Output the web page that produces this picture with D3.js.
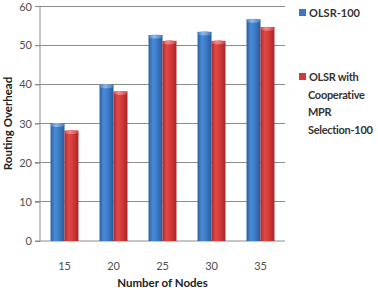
<!DOCTYPE html>
<html><head><meta charset="utf-8">
<script src="https://cdnjs.cloudflare.com/ajax/libs/d3/7.8.5/d3.min.js"></script>
<style>body{margin:0;background:#fff}svg{display:block;font-family:Lato,"Open Sans",sans-serif}</style>
</head><body><svg id="c" width="378" height="290"></svg>
<script>
const categories = ["15","20","25","30","35"];
const seriesNames = ["OLSR-100","OLSR with Cooperative MPR Selection-100"];
const olsr = [30, 39.9, 52.6, 53.4, 56.6];
const coop = [28.2, 38.2, 51.1, 51.1, 54.6];
const yTicks = [0,10,20,30,40,50,60];

const svg = d3.select("#c");
const M = {l:40, r:285, t:6, b:241};
const x = d3.scaleBand().domain(categories).range([M.l, M.r]).paddingInner(0.43).paddingOuter(0.215);
const xs = d3.scaleBand().domain([0,1]).range([0, x.bandwidth()]);
const y = d3.scaleLinear().domain([0,60]).range([M.b, M.t]);

const defs = svg.append("defs");
function grad(id, stops){
  const g = defs.append("linearGradient").attr("id", id).attr("x1","0").attr("x2","1").attr("y1","0").attr("y2","0");
  stops.forEach(s=>g.append("stop").attr("offset",s[0]).attr("stop-color",s[1]));
}
grad("gb", [[0,"#2a5f9e"],[0.3,"#4a8ad6"],[0.55,"#3f7fcc"],[1,"#2a5a98"]]);
grad("gr", [[0,"#b02a2a"],[0.3,"#e04848"],[0.55,"#d83c3c"],[1,"#a82626"]]);
grad("gbt", [[0,"#4d86c9"],[0.4,"#8cb8ea"],[1,"#4a7fc0"]]);
grad("grt", [[0,"#d35050"],[0.4,"#f08c8c"],[1,"#c84444"]]);

// gridlines
svg.append("g").selectAll("line").data(yTicks.filter(d=>d>0)).join("line")
  .attr("x1", M.l-5).attr("x2", M.r).attr("y1", d=>y(d)).attr("y2", d=>y(d))
  .attr("stroke", "#8c8c8c").attr("stroke-width", 1).attr("shape-rendering","crispEdges");
// y axis
const ya = svg.append("g").attr("transform", `translate(${M.l},0)`)
  .call(d3.axisLeft(y).tickValues(yTicks).tickSize(5).tickPadding(3));
ya.select(".domain").attr("stroke","#8c8c8c").attr("d", `M0,${M.t}V${M.b}`);
ya.selectAll(".tick line").attr("stroke","#8c8c8c");
ya.selectAll("text").attr("font-size", 11).attr("fill","#505050").attr("font-family","Lato,sans-serif")
  .attr("dy", d => d===60 ? "0.45em" : "0.32em");
// x axis
const xa = svg.append("g").attr("transform", `translate(0,${M.b})`)
  .call(d3.axisBottom(x).tickSize(0).tickPadding(21));
xa.select(".domain").attr("stroke","#8c8c8c").attr("d", `M${M.l-5},0H${M.r}`);
xa.selectAll("text").attr("font-size", 11).attr("fill","#505050").attr("font-family","Lato,sans-serif");

const data = [olsr, coop];
const fills = ["url(#gb)","url(#gr)"];
const tops = ["url(#gbt)","url(#grt)"];
data.forEach((vals, si) => {
  const g = svg.append("g");
  g.selectAll("rect.b").data(vals).join("rect").attr("class","b")
    .attr("x", (d,i)=>x(categories[i]) + xs(si))
    .attr("width", xs.bandwidth())
    .attr("y", d=>y(d)).attr("height", d=>y(0)-y(d))
    .attr("fill", fills[si]);
  g.selectAll("ellipse").data(vals).join("ellipse")
    .attr("cx", (d,i)=>x(categories[i]) + xs(si) + xs.bandwidth()/2)
    .attr("cy", d=>y(d)+1.5).attr("rx", xs.bandwidth()/2).attr("ry", 2)
    .attr("fill", tops[si]);
});

// axis titles
svg.append("text").attr("x", (M.l+M.r)/2).attr("y", 287).attr("text-anchor","middle")
  .attr("font-size", 11.5).attr("font-weight","bold").attr("fill","#222").text("Number of Nodes");
svg.append("text").attr("transform", `translate(12,${(M.t+M.b)/2}) rotate(-90)`).attr("text-anchor","middle")
  .attr("font-size", 11.5).attr("font-weight","bold").attr("fill","#222").text("Routing Overhead");

// legend
const colors = ["#3a78c4","#d03a3a"];
const lg = svg.append("g");
lg.append("rect").attr("x",299).attr("y",9).attr("width",7).attr("height",7).attr("fill",colors[0]);
lg.append("text").attr("x",309).attr("y",17).attr("font-size",11).attr("font-weight","bold").attr("fill","#333").text(seriesNames[0]);
lg.append("rect").attr("x",299).attr("y",73).attr("width",7).attr("height",7).attr("fill",colors[1]);
const lines = ["OLSR with","Cooperative","MPR","Selection-100"];
const t = lg.append("text").attr("font-size",11).attr("font-weight","bold").attr("fill","#333").attr("letter-spacing","-0.3");
lines.forEach((s,i)=>t.append("tspan").attr("x", i===0?309:308).attr("y", 81 + i*17.5).text(s));
</script></body></html>
